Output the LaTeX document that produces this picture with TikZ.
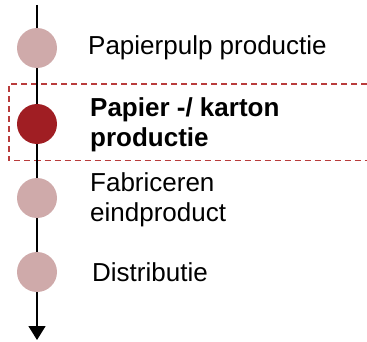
\documentclass[tikz,border=0pt]{standalone}
\usepackage{fontspec}
\setmainfont{Liberation Sans}
\usetikzlibrary{arrows.meta}
\definecolor{StapLicht}{RGB}{207,170,170}
\definecolor{StapDonker}{RGB}{160,30,35}
\definecolor{KaderRood}{RGB}{185,60,60}
\tikzset{stap/.style={circle,fill=StapLicht,inner sep=0pt,minimum size=40pt}, actief/.style={stap,fill=StapDonker}, tekst/.style={anchor=west,align=left,inner sep=0pt,font=\fontsize{26}{30}\selectfont},kader/.style={draw=KaderRood,line width=1.2pt,dash pattern=on 6pt off 4pt}}

\begin{document}
\begin{tikzpicture}[x=1pt,y=1pt]
\useasboundingbox (0,0) rectangle (367,341);
\coordinate (top) at (37,336);
\coordinate (eind) at (37,1);
\coordinate (ka) at (367,257);
\coordinate (kb) at (9,257);
\coordinate (kc) at (9,180.5);
\coordinate (kd) at (367,180.5);
\draw[kader] (ka)--(kb)--(kc)--(kd);
\draw[line width=1.5pt,-{Triangle[width=17pt,length=14pt]}] (top)--(eind);
\node[stap] (s1) at (37,293) {};
\node[actief] (s2) at (37,217) {};
\node[stap] (s3) at (37,143) {};
\node[stap] (s4) at (37,69) {};
\node[tekst] (t1) at (88,293) {Papierpulp productie};
\node[tekst,font=\fontsize{26}{30}\selectfont\bfseries] (t2) at (90,216) {Papier -/ karton\\productie};
\node[tekst] (t3) at (90,141) {Fabriceren\\eindproduct};
\node[tekst] (t4) at (92,69) {Distributie};
\end{tikzpicture}
\end{document}
